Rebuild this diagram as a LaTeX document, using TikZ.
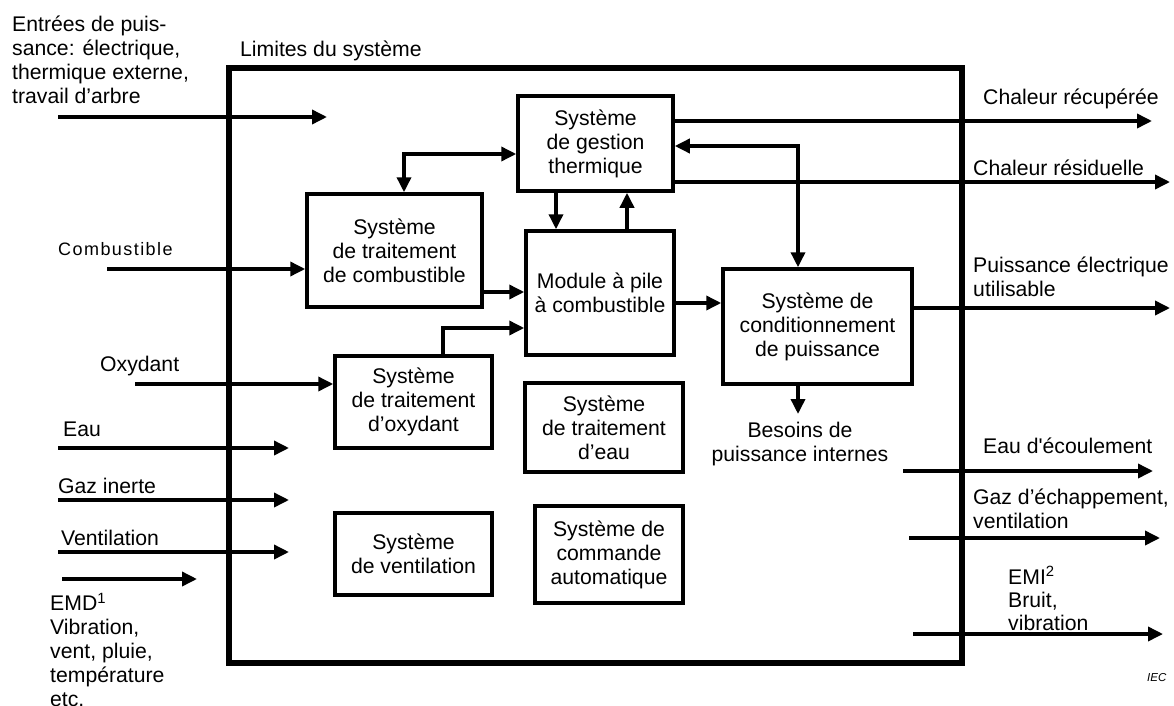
\documentclass[tikz,border=0pt]{standalone}
\usepackage{fontspec}
\setmainfont{Liberation Sans}
\newfontfamily\spacedfont[LetterSpace=8]{Liberation Sans}
\usetikzlibrary{arrows.meta}
\begin{document}
\begin{tikzpicture}[x=1pt,y=-1pt,
  font=\fontsize{21.2}{24}\selectfont,
  box/.style={draw,line width=3.5pt,align=center,inner sep=0pt},
  conn/.style={line width=3.5pt,-{Triangle[length=15pt,width=14pt]}},
  conntwo/.style={line width=3.5pt,{Triangle[length=15pt,width=14pt]}-{Triangle[length=15pt,width=14pt]}},
  lbl/.style={inner sep=0pt,anchor=base west},
  mlbl/.style={inner sep=0pt,anchor=north west,align=left}]
\useasboundingbox (0,0) rectangle (1174,706);

% system boundary
\node[draw,line width=5.5pt,minimum width=733pt,minimum height=595pt,inner sep=0pt] (sys) at (595.5,365.5) {};

% boxes
\node[box,minimum width=155pt,minimum height=95pt] (therm) at (595.5,143.5) {Système\\de gestion\\thermique};
\node[box,minimum width=175pt,minimum height=113pt] (fuel) at (394.5,250.5) {Système\\de traitement\\de combustible};
\node[box,minimum width=148pt,minimum height=124pt] (module) at (600,293) {Module à pile\\à combustible};
\node[box,minimum width=189pt,minimum height=115pt] (pcond) at (817.5,326.5) {Système de\\conditionnement\\de puissance};
\node[box,minimum width=157pt,minimum height=92pt] (oxproc) at (413.5,402) {Système\\de traitement\\d’oxydant};
\node[box,minimum width=158pt,minimum height=89pt] (water) at (604,427.5) {Système\\de traitement\\d’eau};
\node[box,minimum width=157pt,minimum height=82pt] (vent) at (413.5,554) {Système\\de ventilation};
\node[box,minimum width=148pt,minimum height=97pt] (auto) at (609,554.5) {Système de\\commande\\automatique};

% internal connectors
\draw[conntwo] ([yshift=-10.5pt]therm.west) -| ([xshift=9.5pt]fuel.north);
\draw[conntwo] ([yshift=-2.5pt]therm.east) -| ([xshift=-19.5pt]pcond.north);
\coordinate (m1) at ([xshift=-44pt]module.north);
\coordinate (m2) at ([xshift=27pt]module.north);
\draw[conn] (m1 |- therm.south) -- (m1);
\draw[conn] (m2) -- (m2 |- therm.south);
\coordinate (f1) at ([yshift=-41.5pt]fuel.east);
\draw[conn] (f1) -- (f1 -| module.west);
\draw[conn] ([xshift=29.5pt]oxproc.north) |- ([yshift=-35pt]module.west);
\coordinate (mo) at ([yshift=-10pt]module.east);
\draw[conn] (mo) -- (mo -| pcond.west);

% outputs from boxes
\coordinate (t1) at ([yshift=22.5pt]therm.east);
\coordinate (out1) at (1152,121);
\draw[conn] (t1) -- (out1);
\coordinate (t2) at ([yshift=-38.5pt]therm.east);
\coordinate (out2) at (1170,182);
\draw[conn] (t2) -- (out2);
\coordinate (p2) at ([yshift=18.5pt]pcond.east);
\coordinate (out3) at (1170,308);
\draw[conn] (p2) -- (out3);
\coordinate (p1) at ([xshift=-19.5pt]pcond.south);
\coordinate (bes) at (798,414);
\draw[conn] (p1) -- (bes);

% inputs
\coordinate (in1) at (58,117); \coordinate (in1e) at (327,117);
\draw[conn] (in1) -- (in1e);
\coordinate (in2) at (107,269);
\draw[conn] (in2) -- (in2 -| fuel.west);
\coordinate (in3) at (135,384);
\draw[conn] (in3) -- (in3 -| oxproc.west);
\coordinate (in4) at (58,448); \coordinate (in4e) at (289,448);
\draw[conn] (in4) -- (in4e);
\coordinate (in5) at (58,500); \coordinate (in5e) at (289,500);
\draw[conn] (in5) -- (in5e);
\coordinate (in6) at (58,552); \coordinate (in6e) at (289,552);
\draw[conn] (in6) -- (in6e);
\coordinate (in7) at (62,579); \coordinate (in7e) at (197,579);
\draw[conn] (in7) -- (in7e);

% outputs
\coordinate (o4) at (903,471); \coordinate (o4e) at (1153,471);
\draw[conn] (o4) -- (o4e);
\coordinate (o5) at (909,538); \coordinate (o5e) at (1160,538);
\draw[conn] (o5) -- (o5e);
\coordinate (o6) at (913,634); \coordinate (o6e) at (1163,634);
\draw[conn] (o6) -- (o6e);

% labels
\node[mlbl] (lin1) at (12,16) {Entrées de puis-\\sance: électrique,\\thermique externe,\\travail d’arbre};
\node[lbl] (llim) at (240,57) {Limites du système};
\node[lbl,font=\spacedfont\fontsize{18}{20}\selectfont] (lcomb) at (58,255) {Combustible};
\node[lbl] (lox) at (100,371) {Oxydant};
\node[lbl] (leau) at (63,436) {Eau};
\node[lbl] (lgaz) at (58,493) {Gaz inerte};
\node[lbl] (lvent) at (61,545) {Ventilation};
\node[mlbl] (lemd) at (50,593) {EMD\textsuperscript{1}\\Vibration,\\vent, pluie,\\température\\etc.};
\node[lbl] (lrec) at (983,105) {Chaleur récupérée};
\node[lbl] (lres) at (973,175) {Chaleur résiduelle};
\node[mlbl] (lelec) at (973,257) {Puissance électrique\\utilisable};
\node[inner sep=0pt,anchor=north,align=center] (lbes) at (800,422) {Besoins de\\puissance internes};
\node[lbl] (lecou) at (983,453) {Eau d\textquotesingle écoulement};
\node[mlbl] (lgazech) at (973,489) {Gaz d’échappement,\\ventilation};
\node[mlbl,font=\fontsize{21.2}{23}\selectfont] (lemi) at (1008,566) {EMI\textsuperscript{2}\\Bruit,\\vibration};
\node[lbl,font=\itshape\fontsize{11.5}{13}\selectfont] (liec) at (1147,681) {IEC};
\end{tikzpicture}
\end{document}
